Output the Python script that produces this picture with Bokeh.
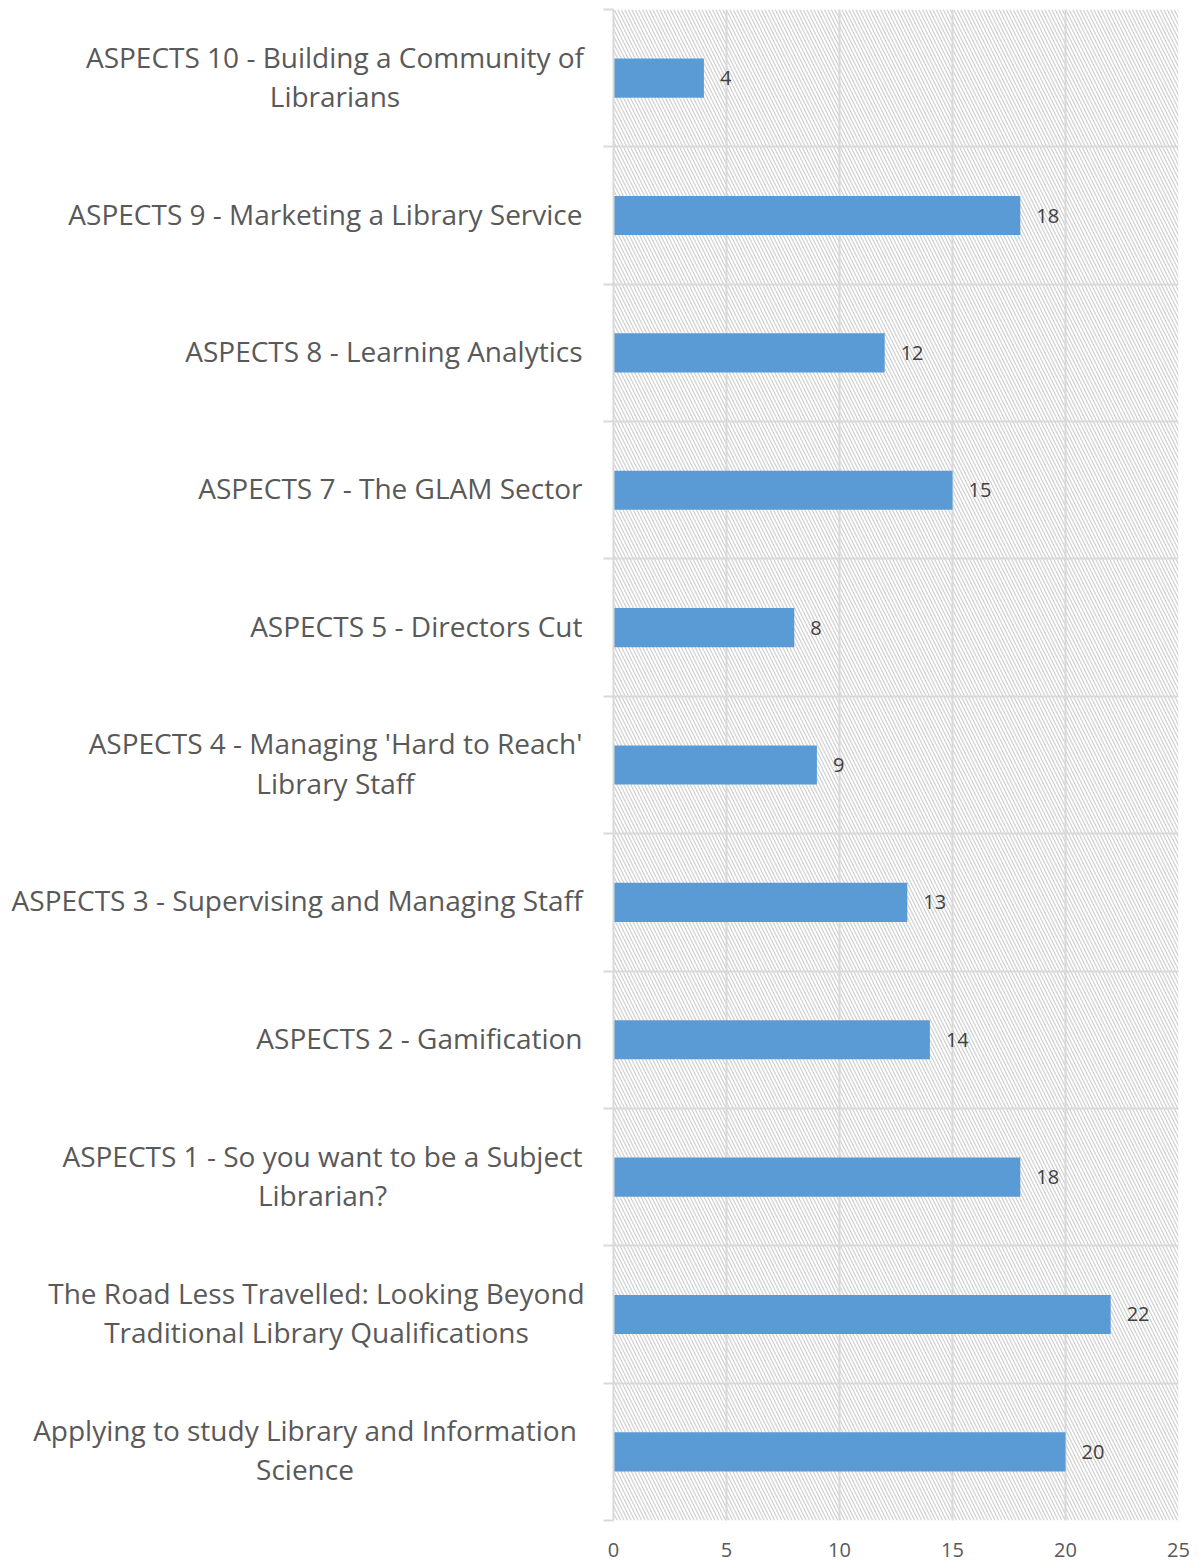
from bokeh.plotting import figure
from bokeh.layouts import row
from bokeh.models import Range1d, FixedTicker, LabelSet, ColumnDataSource, BoxAnnotation
from bokeh.core.properties import value
from bokeh.embed import file_html
from bokeh.resources import INLINE

# Categories listed top to bottom as in the chart
categories = [
    "ASPECTS 10 - Building a Community of\nLibrarians",
    "ASPECTS 9 - Marketing a Library Service",
    "ASPECTS 8 - Learning Analytics",
    "ASPECTS 7 - The GLAM Sector",
    "ASPECTS 5 - Directors Cut",
    "ASPECTS 4 - Managing 'Hard to Reach'\nLibrary Staff",
    "ASPECTS 3 - Supervising and Managing Staff",
    "ASPECTS 2 - Gamification",
    "ASPECTS 1 - So you want to be a Subject\nLibrarian?",
    "The Road Less Travelled: Looking Beyond\nTraditional Library Qualifications",
    "Applying to study Library and Information\nScience",
]
values = [4, 18, 12, 15, 8, 9, 13, 14, 18, 22, 20]
x_ticks = [0, 5, 10, 15, 20, 25]

# text anchors of the category labels (pixels in the label panel):
# single lines are right-aligned, wrapped ones are centred
label_anchor = [334.5, 582, 582, 582, 582, 335, 582, 582, 322, 316, 304.5]

n = len(categories)
ypos = [n - 0.5 - i for i in range(n)]
separators = list(range(n + 1))

FONT = "Open Sans"
GRID = "#d9d9d9"
H = 1564
TOP, BOTTOM = 9, 44
LW = 593            # width of the label panel
MW = 1199 - LW      # width of the chart panel

# ---- label panel -------------------------------------------------------
lp = figure(width=LW, height=H, output_backend="svg", toolbar_location=None,
            x_range=Range1d(0, LW), y_range=Range1d(0, n),
            x_axis_type=None, y_axis_type=None,
            min_border_left=0, min_border_right=0,
            min_border_top=TOP, min_border_bottom=BOTTOM)
lp.outline_line_color = None
lp.grid.visible = False

single = [i for i, c in enumerate(categories) if "\n" not in c]
multi = [i for i, c in enumerate(categories) if "\n" in c]
for idx, align in ((single, "right"), (multi, "center")):
    s = ColumnDataSource(dict(x=[label_anchor[i] for i in idx],
                              y=[ypos[i] for i in idx],
                              t=[categories[i] for i in idx]))
    lp.text(x="x", y="y", text="t", source=s, text_align=align,
            text_baseline="middle", text_font=value(FONT), y_offset=-2,
            text_font_size="28px", text_color="#595959", text_line_height=1.03)

# ---- chart panel -------------------------------------------------------
p = figure(width=MW, height=H, output_backend="svg", toolbar_location=None,
           x_range=Range1d(0, 25), y_range=Range1d(0, n),
           min_border_left=20, min_border_right=21,
           min_border_top=TOP, min_border_bottom=BOTTOM)
p.outline_line_color = None
p.background_fill_color = "white"

# hatched plot area background
bg = BoxAnnotation(fill_color="white", fill_alpha=1, line_color=None,
                   hatch_pattern="\\", hatch_color="#cfcfcf", hatch_scale=7,
                   hatch_weight=1.2, level="image")
p.add_layout(bg)

p.xgrid.ticker = FixedTicker(ticks=x_ticks)
p.xgrid.grid_line_color = GRID
p.xgrid.grid_line_width = 2
p.ygrid.ticker = FixedTicker(ticks=separators)
p.ygrid.grid_line_color = GRID
p.ygrid.grid_line_width = 2

p.xaxis.ticker = FixedTicker(ticks=x_ticks)
p.xaxis.axis_line_color = None
p.xaxis.major_tick_line_color = None
p.xaxis.minor_tick_line_color = None
p.xaxis.major_label_text_font = FONT
p.xaxis.major_label_text_font_size = "20px"
p.xaxis.major_label_text_color = "#595959"
p.xaxis.major_label_standoff = 16

# y axis: only the category separator ticks
p.yaxis.ticker = FixedTicker(ticks=separators)
p.yaxis.major_label_overrides = {s: "" for s in separators}
p.yaxis.major_label_standoff = 0
p.yaxis.axis_line_color = GRID
p.yaxis.axis_line_width = 2
p.yaxis.major_tick_line_color = GRID
p.yaxis.major_tick_line_width = 2
p.yaxis.major_tick_out = 10
p.yaxis.major_tick_in = 0
p.yaxis.minor_tick_line_color = None

src = ColumnDataSource(dict(y=ypos, v=values, t=[str(v) for v in values]))
p.hbar(y="y", right="v", left=0, height=0.285, source=src,
       fill_color="#5b9bd5", line_color=None)

labels = LabelSet(x="v", y="y", text="t", source=src, x_offset=16,
                  text_align="left", text_baseline="middle",
                  text_font=value(FONT), text_font_size="20px", text_color="#404040")
p.add_layout(labels)

layout = row(lp, p, spacing=0)
open("out.html", "w").write(file_html(layout, INLINE))
